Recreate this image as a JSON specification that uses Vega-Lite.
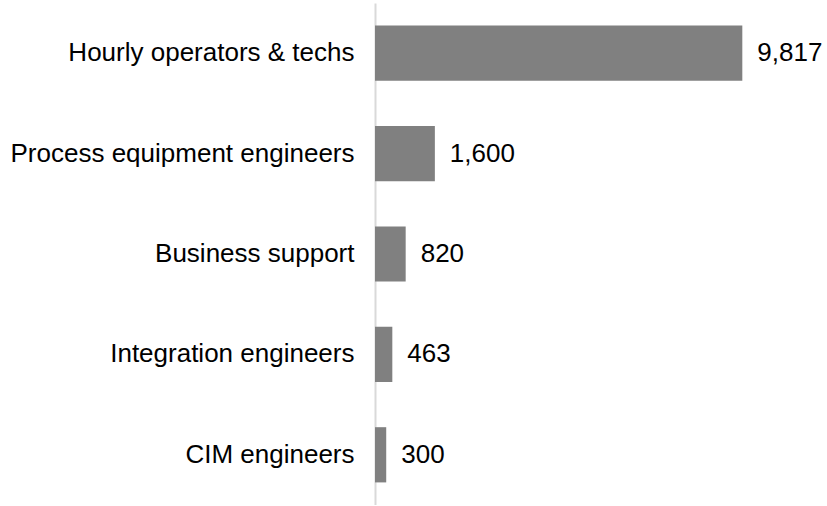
{
  "$schema": "https://vega.github.io/schema/vega-lite/v6.json",
  "autosize": {"type": "none"},
  "padding": {"left": 375, "top": 3, "right": 0, "bottom": 0},
  "width": 449,
  "height": 502,
  "background": "white",
  "config": {"view": {"stroke": null}, "font": "Liberation Sans"},
  "data": {"values": [
    {"role": "Hourly operators & techs", "count": 9817},
    {"role": "Process equipment engineers", "count": 1600},
    {"role": "Business support", "count": 820},
    {"role": "Integration engineers", "count": 463},
    {"role": "CIM engineers", "count": 300}
  ]},
  "encoding": {
    "y": {"field": "role", "type": "nominal", "sort": null,
      "scale": {"paddingInner": 0.45, "paddingOuter": 0.225},
      "axis": {"title": null, "ticks": false, "domainColor": "#d9d9d9", "domainWidth": 2,
        "labelFontSize": 26, "labelColor": "#000000", "labelPadding": 21, "labelLimit": 400, "labelFont": "Liberation Sans"}},
    "x": {"field": "count", "type": "quantitative",
      "scale": {"domain": [0, 12000], "nice": false, "zero": true},
      "axis": null}
  },
  "layer": [
    {"mark": {"type": "bar", "color": "#808080"}},
    {"mark": {"type": "text", "align": "left", "baseline": "middle", "dx": 15, "fontSize": 26, "color": "#000000", "font": "Liberation Sans"},
     "encoding": {"text": {"field": "count", "type": "quantitative", "format": ","}}}
  ]
}
